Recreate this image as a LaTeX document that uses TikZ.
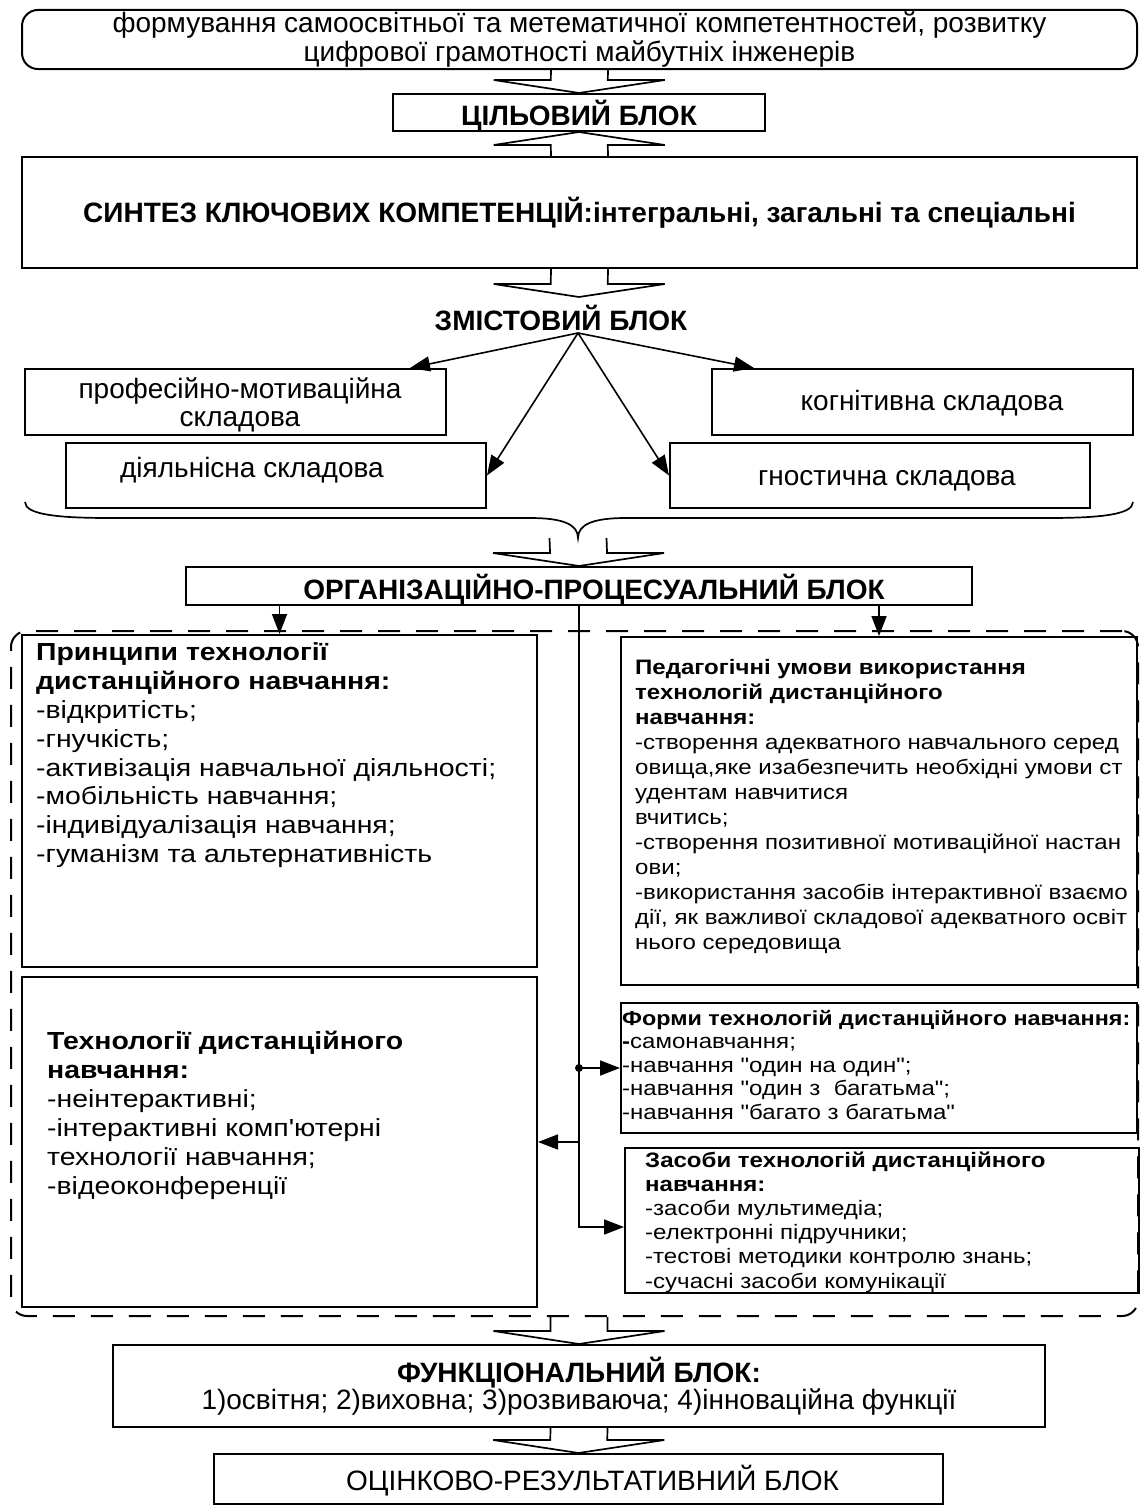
\documentclass[tikz,border=0pt]{standalone}
\usepackage{fontspec}
\setmainfont{Liberation Sans}
\newfontfamily\widefont{Liberation Sans}[FakeStretch=1.15]
\usetikzlibrary{calc,arrows.meta}

\tikzset{
  box/.style={draw, line width=2pt, inner sep=2pt},
  blocktext/.style={font=\fontsize{28}{28.5}\selectfont, align=center},
  blocktitle/.style={font=\fontsize{28}{28.5}\selectfont\bfseries},
  hollow/.style={line width=1.7pt},
  arr/.style={line width=1.6pt, -{Triangle[length=20pt,width=15pt]}},
  listtext/.style={anchor=north west, align=left, inner sep=0pt},
}
\newcommand{\hollowarrow}[2]{%
  \draw[hollow] ($(#1)+(-28.5,0)$) -- ($(#2)!13pt!(#1)+(-28.5,0)$) -- ($(#2)!13pt!(#1)+(-85.5,0)$) -- (#2)
    -- ($(#2)!13pt!(#1)+(85.5,0)$) -- ($(#2)!13pt!(#1)+(28.5,0)$) -- ($(#1)+(28.5,0)$);}

\begin{document}
\begin{tikzpicture}[x=1pt, y=-1pt]
  \useasboundingbox (0,0) rectangle (1142,1506);

  \node[box, rounded corners=16pt, minimum width=1115, minimum height=55, blocktext] (top) at (579.5,39.5)
    {формування самоосвітньої та метематичної компетентностей, розвитку\\цифрової грамотності майбутніх інженерів};
  \node[box, minimum width=372, minimum height=37] (goal) at (579,112.5) {};
  \node[blocktitle, inner sep=0pt] (goaltext) at ($(goal.center)+(0,3)$) {ЦІЛЬОВИЙ БЛОК};
  \node[box, minimum width=1115, minimum height=111, blocktitle] (synth) at (579.5,212.5)
    {СИНТЕЗ КЛЮЧОВИХ КОМПЕТЕНЦІЙ:інтегральні, загальні та спеціальні};
  \node[blocktitle, inner sep=0pt] (zmist) at (561,318) {ЗМІСТОВИЙ БЛОК};
  \coordinate (zmisttip) at (579,297);
  \coordinate (fan) at (578,333);

  % components
  \node[box, minimum width=421, minimum height=66] (prof) at (235.5,402) {};
  \node[box, minimum width=420, minimum height=65] (dial) at (276,475.5) {};
  \node[box, minimum width=421, minimum height=66] (kogn) at (922.5,402) {};
  \node[box, minimum width=420, minimum height=65] (gnost) at (880,475.5) {};
  \node[blocktext, inner sep=0pt] (proftext) at ($(prof.center)+(4.5,3)$) {професійно-мотиваційна\\складова};
  \node[blocktext, inner sep=0pt] (dialtext) at ($(dial.center)+(-24,-5)$) {діяльнісна складова};
  \node[blocktext, inner sep=0pt] (kogntext) at ($(kogn.center)+(9.5,1)$) {когнітивна складова};
  \node[blocktext, inner sep=0pt] (gnosttext) at ($(gnost.center)+(7,5)$) {гностична складова};
  \draw[arr] (fan) -- ($(prof.north east)+(-37,0)$);
  \draw[arr] (fan) -- (dial.east);
  \draw[arr] (fan) -- ($(kogn.north west)+(43,0)$);
  \draw[arr] (fan) -- (gnost.west);

  \coordinate (bracetip) at (578,538);
  \draw[hollow] (25,502) .. controls (25,515) and (60,518) .. (110,518) -- (530,518)
    .. controls (562,518) and (578,524) .. (bracetip) .. controls (578,524) and (594,518) .. (626,518)
    -- (1048,518) .. controls (1098,518) and (1133,515) .. (1133,502);

  \node[box, minimum width=786, minimum height=38] (org) at (579,586) {};
  \node[blocktitle, inner sep=0pt] (orgtext) at ($(org.center)+(15,4)$) {ОРГАНІЗАЦІЙНО-ПРОЦЕСУАЛЬНИЙ БЛОК};

  % organisational area
  \node[draw, dash pattern=on 22pt off 16pt, line width=2pt, rounded corners=16pt,
        minimum width=1127, minimum height=685] (area) at (574.5,973.5) {};
  \node[box, minimum width=515, minimum height=332] (princ) at (279.5,801) {};
  \node[box, minimum width=515, minimum height=330] (tech) at (279.5,1142) {};
  \node[box, minimum width=516, minimum height=348] (ped) at (879,811) {};
  \node[box, minimum width=516, minimum height=130] (form) at (879,1068) {};
  \node[box, minimum width=514, minimum height=145] (zas) at (882,1220.5) {};

  \node[listtext, font=\widefont\fontsize{24.7}{28.8}\selectfont] (princtext) at ($(princ.north west)+(15,6.5)$)
    {\strut\textbf{Принципи технології}\\\textbf{дистанційного навчання:}\\-відкритість;\\-гнучкість;\\-активізація навчальної діяльності;\\-мобільність навчання;\\-індивідуалізація навчання;\\-гуманізм та альтернативність};
  \node[listtext, font=\widefont\fontsize{24.7}{29}\selectfont] (techtext) at ($(tech.north west)+(26,53)$)
    {\strut\textbf{Технології дистанційного}\\\textbf{навчання:}\\-неінтерактивні;\\-інтерактивні комп'ютерні\\технології навчання;\\-відеоконференції};
  \node[listtext, font=\widefont\fontsize{20.9}{25}\selectfont] (pedtext) at ($(ped.north west)+(15,21)$)
    {\strut\textbf{Педагогічні умови використання}\\\textbf{технологій дистанційного}\\\textbf{навчання:}\\-створення адекватного навчального серед\\овища,яке изабезпечить необхідні умови ст\\удентам навчитися\\вчитись;\\-створення позитивної мотиваційної настан\\ови;\\-використання засобів інтерактивної взаємо\\дії, як важливої складової адекватного освіт\\нього середовища};
  \node[listtext, font=\widefont\fontsize{20.9}{23.5}\selectfont] (formtext) at ($(form.north west)+(2,6.5)$)
    {\strut\textbf{\fontsize{20.3}{23.5}\selectfont Форми технологій дистанційного навчання:}\\\textbf{-}самонавчання;\\-навчання "один на один";\\-навчання "один з\ \ багатьма";\\-навчання "багато з багатьма"};
  \node[listtext, font=\widefont\fontsize{20.9}{24.2}\selectfont] (zastext) at ($(zas.north west)+(21,3)$)
    {\strut\textbf{Засоби технологій дистанційного}\\\textbf{навчання:}\\-засоби мультимедіа;\\-електронні підручники;\\-тестові методики контролю знань;\\-сучасні засоби комунікації};

  \draw[arr] (org.south -| princ.north) -- (princ.north);
  \draw[arr] (org.south -| ped.north) -- (ped.north);
  \draw[arr] (org.south) |- ($(zas.west)+(0,6.5)$);
  \draw[arr] (org.south |- form.west) -- (form.west);
  \fill (org.south |- form.west) circle (4);
  \draw[arr] (org.south |- tech.east) -- (tech.east);

  % results
  \node[box, minimum width=932, minimum height=82, align=center, font=\fontsize{28}{27}\selectfont] (func) at (579,1386)
    {\textbf{ФУНКЦІОНАЛЬНИЙ БЛОК:}\\1)освітня; 2)виховна; 3)розвиваюча; 4)інноваційна функції};
  \node[box, minimum width=729, minimum height=50] (eval) at (578.5,1479) {};
  \node[blocktext, inner sep=0pt] (evaltext) at ($(eval.center)+(14,2)$) {ОЦІНКОВО-РЕЗУЛЬТАТИВНИЙ БЛОК};

  \hollowarrow{top.south}{goal.north}
  \hollowarrow{synth.north}{goal.south}
  \hollowarrow{synth.south}{zmisttip}
  \hollowarrow{bracetip}{org.north}
  \hollowarrow{area.south -| func.north}{func.north}
  \hollowarrow{func.south}{eval.north}
\end{tikzpicture}
\end{document}
